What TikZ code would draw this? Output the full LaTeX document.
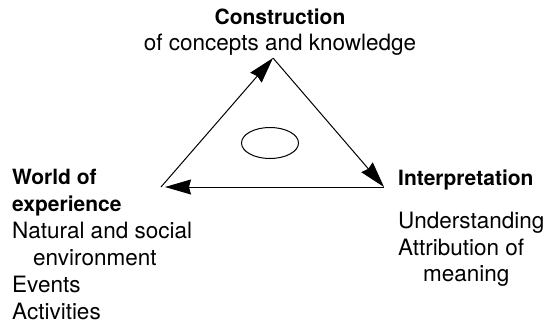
\documentclass[tikz,border=0pt]{standalone}
\usepackage{fontspec}
\setmainfont{TeX Gyre Heros}
\usepackage{tikz}
\usetikzlibrary{arrows.meta, shapes.geometric}

\tikzset{
  txt/.style={inner sep=0pt, anchor=base west, font=\fontsize{22.5}{27}\selectfont},
  head/.style={txt, font=\fontsize{21}{27}\selectfont\bfseries},
  flow/.style={-{Stealth[length=26pt,width=15pt,inset=2pt]}, line width=1pt},
}

\begin{document}
\begin{tikzpicture}[x=1pt,y=-1pt]
        \useasboundingbox (0,0) rectangle (555,324);
        % corners of the triangle
        \coordinate (apex) at (273,58);
        \coordinate (lft) at (161,187);
        \coordinate (rgt) at (384,187);
        \draw[flow] (lft) -- (apex);
        \draw[flow] (apex) -- (rgt);
        \draw[flow, shorten >=4pt] (rgt) -- (lft);
        \node[draw, ellipse, line width=1pt, inner sep=0pt, minimum width=57pt, minimum height=31pt] (hub) at (270,143) {};
        % top
        \node[head, anchor=base] (constr) at (280,24) {Construction};
        \node[txt, anchor=base] (concepts) at (280,50) {of concepts and knowledge};
        % left
        \node[head] (world) at (12,184) {World of};
        \node[head] (exper) at (12,211) {experience};
        \node[txt] (natural) at (12,238) {Natural and social};
        \node[txt] (environ) at (33,265) {environment};
        \node[txt] (events) at (12,292) {Events};
        \node[txt] (activ) at (12,319) {Activities};
        % right
        \node[head] (interp) at (398,185) {Interpretation};
        \node[txt] (under) at (398,228) {Understanding};
        \node[txt] (attrib) at (398,255) {Attribution of};
        \node[txt] (meaning) at (423,281) {meaning};
    \end{tikzpicture}
\end{document}
